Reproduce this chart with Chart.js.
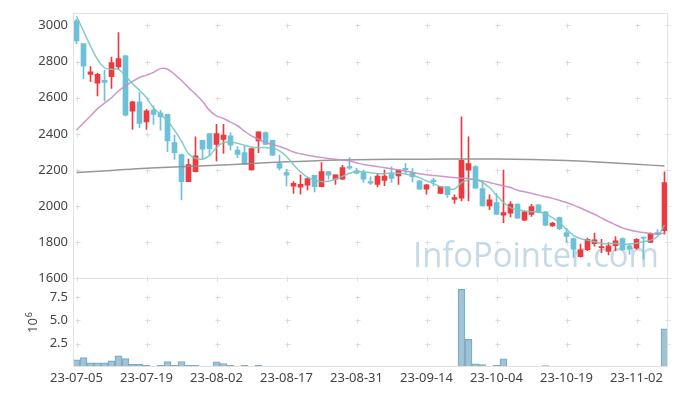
<!DOCTYPE html>
<html>
<head>
<meta charset="utf-8">
<script src="https://cdn.jsdelivr.net/npm/chart.js@4.4.0/dist/chart.umd.min.js"></script>
<style>
  html, body { margin: 0; padding: 0; background: #fff; }
  #wrap { position: relative; width: 677px; height: 396px; }
</style>
</head>
<body>
<div id="wrap"><canvas id="chart" width="677" height="396"></canvas></div>
<script>
// trading days, 23-07-05 .. 23-11-08
const labels = [
  '23-07-05','23-07-06','23-07-07','23-07-10','23-07-11','23-07-12','23-07-13','23-07-14','23-07-17','23-07-18',
  '23-07-19','23-07-20','23-07-21','23-07-24','23-07-25','23-07-26','23-07-27','23-07-28','23-07-31','23-08-01',
  '23-08-02','23-08-03','23-08-04','23-08-07','23-08-08','23-08-09','23-08-10','23-08-11','23-08-14','23-08-16',
  '23-08-17','23-08-18','23-08-21','23-08-22','23-08-23','23-08-24','23-08-25','23-08-28','23-08-29','23-08-30',
  '23-08-31','23-09-01','23-09-04','23-09-05','23-09-06','23-09-07','23-09-08','23-09-11','23-09-12','23-09-13',
  '23-09-14','23-09-15','23-09-18','23-09-19','23-09-20','23-09-21','23-09-22','23-09-25','23-09-26','23-09-27',
  '23-10-04','23-10-05','23-10-06','23-10-10','23-10-11','23-10-12','23-10-13','23-10-16','23-10-17','23-10-18',
  '23-10-19','23-10-20','23-10-23','23-10-24','23-10-25','23-10-26','23-10-27','23-10-30','23-10-31','23-11-01',
  '23-11-02','23-11-03','23-11-06','23-11-07','23-11-08'
];

const open = [
  3025,2899,2729,2680,2696,2716,2771,2832,2525,2577,
  2466,2532,2516,2508,2352,2285,2136,2191,2364,2401,
  2342,2370,2389,2311,2296,2201,2361,2407,2364,2236,
  2186,2110,2105,2116,2171,2108,2191,2149,2149,2219,
  2195,2186,2136,2120,2143,2180,2167,2210,2186,2140,
  2094,2145,2071,2108,2038,2044,2199,2219,2097,2002,
  2020,1950,1961,2011,1922,1955,2008,1969,1891,1937,
  1854,1821,1720,1759,1793,1770,1749,1781,1821,1781,
  1767,1828,1799,1854,1864
];
const high = [
  3035,2900,2773,2737,2753,2825,2960,2835,2580,2628,
  2536,2555,2530,2510,2393,2290,2260,2383,2365,2402,
  2453,2453,2407,2330,2333,2322,2412,2412,2365,2282,
  2204,2136,2173,2158,2172,2241,2192,2174,2226,2269,
  2210,2199,2162,2182,2199,2217,2200,2236,2210,2141,
  2121,2154,2110,2109,2063,2494,2383,2225,2136,2063,
  2071,2200,2025,2013,1970,2010,2010,1970,1910,1940,
  1877,1825,1790,1823,1851,1816,1799,1832,1825,1790,
  1820,1829,1852,1870,2190
];
const low = [
  2899,2705,2689,2610,2582,2652,2760,2500,2425,2434,
  2425,2453,2420,2302,2259,2035,2135,2190,2263,2281,
  2250,2292,2311,2269,2230,2199,2296,2340,2280,2199,
  2112,2071,2066,2090,2079,2106,2149,2121,2148,2204,
  2179,2131,2121,2107,2114,2131,2121,2182,2134,2093,
  2066,2112,2069,2048,2015,2029,2029,2098,2000,1980,
  1954,1909,1941,1932,1920,1943,1963,1890,1888,1870,
  1799,1716,1718,1754,1779,1743,1730,1754,1755,1735,
  1762,1707,1798,1843,1845
];
const close = [
  2915,2775,2744,2729,2685,2794,2816,2503,2577,2458,
  2527,2508,2494,2361,2296,2136,2230,2278,2315,2318,
  2401,2394,2337,2287,2232,2319,2411,2342,2282,2210,
  2171,2127,2121,2153,2108,2191,2171,2173,2213,2210,
  2182,2149,2127,2167,2167,2154,2199,2201,2162,2094,
  2118,2136,2108,2063,2048,2254,2236,2099,2002,2035,
  1955,1965,2011,1934,1969,1998,1965,1895,1906,1876,
  1832,1762,1759,1817,1814,1777,1781,1808,1759,1762,
  1817,1823,1849,1845,2131
];

// volume in millions of shares
const volume = [
  0.77,1.00,0.46,0.46,0.46,0.67,1.19,0.90,0.28,0.28,
  0.18,0.07,0.18,0.59,0.18,0.59,0.18,0.18,0.07,0.07,
  0.56,0.38,0.18,0.07,0.18,0.07,0.18,0.06,0.06,0.06,
  0.06,0.06,0.06,0.06,0.06,0.06,0.01,0.06,0.06,0.01,
  0.01,0.06,0.01,0.01,0.06,0.06,0.06,0.06,0.06,0.06,
  0.06,0.01,0.06,0.06,0.06,8.33,2.96,0.35,0.25,0.07,
  0.18,0.87,0.06,0.06,0.06,0.01,0.06,0.15,0.01,0.06,
  0.06,0.06,0.01,0.01,0.01,0.01,0.01,0.01,0.01,0.01,
  0.01,0.01,0.06,0.01,4.10
];

// moving averages
const ma5 = [
  3052,2969,2886,2812,2766,2757,2757,2720,2678,2641,
  2600,2545,2508,2471,2420,2360,2290,2265,2260,2280,
  2324,2352,2355,2348,2337,2328,2324,2324,2320,2306,
  2275,2230,2190,2160,2145,2136,2138,2150,2165,2182,
  2190,2190,2185,2180,2180,2184,2182,2178,2170,2158,
  2140,2125,2108,2098,2095,2130,2145,2149,2131,2103,
  2061,2020,1992,1980,1974,1969,1969,1956,1937,1909,
  1872,1839,1821,1811,1803,1793,1793,1793,1790,1790,
  1795,1803,1811,1832,1895
];
const ma20 = [
  2420,2460,2499,2540,2570,2600,2637,2665,2690,2712,
  2725,2740,2761,2758,2729,2695,2656,2620,2580,2530,
  2500,2485,2465,2445,2415,2389,2370,2352,2342,2330,
  2316,2300,2290,2282,2275,2270,2264,2259,2255,2251,
  2240,2230,2225,2219,2213,2207,2201,2193,2187,2179,
  2174,2170,2166,2162,2158,2155,2152,2146,2140,2131,
  2121,2112,2103,2088,2080,2071,2061,2052,2043,2032,
  2020,2006,1990,1972,1955,1935,1915,1897,1880,1868,
  1860,1854,1849,1845,1852
];
const ma120Idx = [0,5,10,15,20,25,30,35,40,45,50,55,60,65,70,75,80,84];
const ma120Val = [2186,2198,2210,2218,2226,2236,2246,2252,2257,2259,2260,2261,2261,2258,2252,2243,2232,2222];

const priceTicks = [1600,1800,2000,2200,2400,2600,2800,3000];
const volTicks = [2.5,5.0,7.5];

const FONT = "'Noto Sans', sans-serif";
const up = '#ec3a40', down = '#6cc1d9';
const candleColors = close.map((c, i) => c >= open[i] ? up : down);
const ma120 = labels.map((_, i) => {
  const k = ma120Idx.indexOf(i);
  return k >= 0 ? ma120Val[k] : null;
});

const decor = {
  id: 'decor',
  beforeDatasetsDraw(chart) {
    const {ctx, chartArea, scales} = chart;
    ctx.save();
    // watermark
    ctx.font = "34px 'Open Sans', sans-serif";
    ctx.fillStyle = 'rgba(150,188,210,0.55)';
    const txt = 'InfoPointer.com';
    const w = ctx.measureText(txt).width;
    ctx.translate(413, 267);
    ctx.scale(246 / w, 1);
    ctx.fillText(txt, 0, 0);
    ctx.restore();

    // little crosses at tick intersections
    ctx.save();
    ctx.strokeStyle = '#dcdcdc';
    ctx.lineWidth = 1;
    const xs = [];
    labels.forEach((l, i) => { if (i % 10 === 0) xs.push(Math.round(scales.x.getPixelForValue(i)) + 0.5); });
    xs.push(Math.round(chartArea.right) - 0.5);
    const ys = priceTicks.map(v => Math.round(scales.y.getPixelForValue(v)) + 0.5)
      .concat(volTicks.map(v => Math.round(scales.yv.getPixelForValue(v)) + 0.5));
    ctx.beginPath();
    xs.forEach(x => ys.forEach(y => {
      ctx.moveTo(x - 2, y); ctx.lineTo(x + 3, y);
      ctx.moveTo(x, y - 2); ctx.lineTo(x, y + 3);
    }));
    ctx.stroke();
    ctx.restore();
  },
  afterDraw(chart) {
    const {ctx, chartArea, scales} = chart;
    ctx.save();
    ctx.strokeStyle = '#e2e2e2';
    ctx.lineWidth = 1;
    const l = Math.round(chartArea.left) + 0.5, r = Math.round(chartArea.right) - 0.5;
    const t = Math.round(chartArea.top) + 0.5, b = Math.round(chartArea.bottom) - 0.5;
    const mid = Math.round(scales.y.bottom) + 0.5;
    ctx.strokeRect(l, t, r - l, b - t);
    ctx.beginPath();
    ctx.moveTo(l, mid); ctx.lineTo(r, mid);
    ctx.stroke();

    // exponent label of the volume axis
    ctx.fillStyle = '#444';
    ctx.translate(37, 333);
    ctx.rotate(-Math.PI / 2);
    ctx.font = '13px ' + FONT;
    ctx.fillText('10', 0, 0);
    const w10 = ctx.measureText('10').width;
    ctx.font = '9px ' + FONT;
    ctx.fillText('6', w10 + 1, -5);
    ctx.restore();
  }
};

const tickStyle = { color: '#444', font: { size: 13, family: FONT } };

new Chart(document.getElementById('chart').getContext('2d'), {
  data: {
    labels: labels,
    datasets: [
      { type: 'line', label: 'MA5', data: ma5, yAxisID: 'y', borderColor: 'rgba(120,200,188,0.9)',
        borderWidth: 1.5, pointRadius: 0, tension: 0.4, order: 0 },
      { type: 'line', label: 'MA20', data: ma20, yAxisID: 'y', borderColor: 'rgba(200,140,196,0.9)',
        borderWidth: 1.5, pointRadius: 0, tension: 0.4, order: 0 },
      { type: 'line', label: 'MA120', data: ma120, yAxisID: 'y', borderColor: 'rgba(140,140,140,0.9)',
        borderWidth: 1.5, pointRadius: 0, tension: 0.4, spanGaps: true, order: 0 },
      { type: 'bar', label: 'wick', data: labels.map((_, i) => [low[i], high[i]]), yAxisID: 'y',
        backgroundColor: candleColors, barThickness: 1, grouped: false, order: 2 },
      { type: 'bar', label: 'body', data: labels.map((_, i) => [open[i], close[i]]), yAxisID: 'y',
        backgroundColor: candleColors, barThickness: 5, minBarLength: 1, grouped: false, order: 1 },
      { type: 'bar', label: 'volume', data: volume, yAxisID: 'yv',
        backgroundColor: 'rgba(150,190,208,0.9)', borderColor: '#7aa8bf', borderWidth: 1,
        barPercentage: 1, categoryPercentage: 1, grouped: false, order: 3 }
    ]
  },
  options: {
    responsive: false,
    animation: false,
    layout: { padding: { top: 10, right: 9, left: 0, bottom: 0 } },
    plugins: { legend: { display: false }, tooltip: { enabled: false } },
    scales: {
      x: {
        type: 'category',
        offset: true,
        grid: { display: false, drawTicks: false },
        border: { display: false },
        ticks: Object.assign({ autoSkip: false, maxRotation: 0, padding: 3,
          callback: (v, i) => i % 10 === 0 ? labels[i] : '' }, tickStyle),
        afterFit: s => { s.height = 29; }
      },
      yv: {
        position: 'left', stack: 'panels', stackWeight: 1,
        min: 0, max: 9.5,
        grid: { display: false, drawTicks: false },
        border: { display: false },
        afterBuildTicks: s => { s.ticks = volTicks.map(v => ({ value: v })); },
        ticks: Object.assign({ padding: 5, callback: v => v.toFixed(1) }, tickStyle),
        afterFit: s => { s.width = 73; }
      },
      y: {
        position: 'left', stack: 'panels', stackWeight: 3,
        min: 1600, max: 3070,
        grid: { display: false, drawTicks: false },
        border: { display: false },
        afterBuildTicks: s => { s.ticks = priceTicks.map(v => ({ value: v })); },
        ticks: Object.assign({ padding: 5, callback: v => String(v) }, tickStyle),
        afterFit: s => { s.width = 73; }
      }
    }
  },
  plugins: [decor]
});
</script>
</body>
</html>
